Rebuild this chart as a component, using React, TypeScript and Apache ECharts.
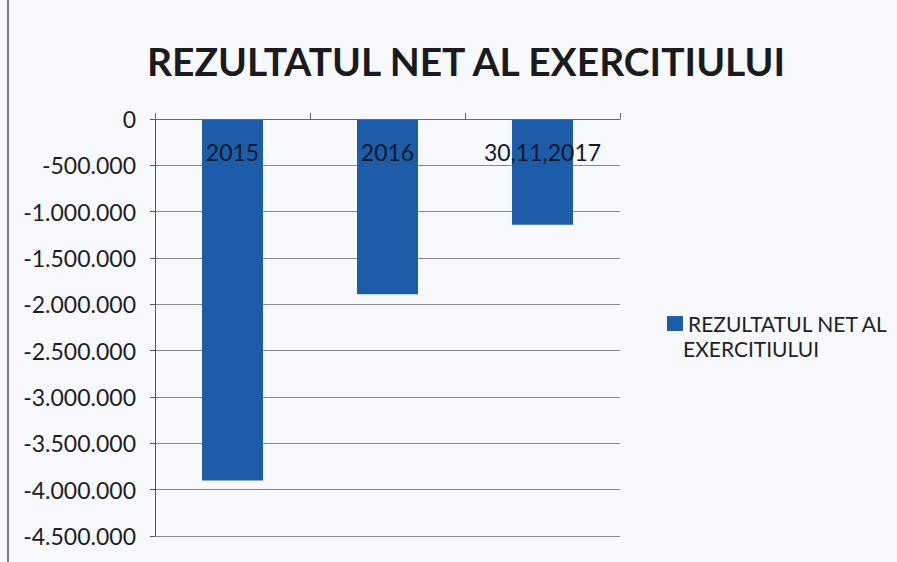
import React, { useEffect, useRef } from "react";
import * as echarts from "echarts";

const categories = ["2015", "2016", "30,11,2017"];
const values = [-3900000, -1890000, -1140000];
const seriesName = "REZULTATUL NET AL EXERCITIULUI";
const titleText = "REZULTATUL NET AL EXERCITIULUI";

const fmt = (v: number) => {
  const s = Math.abs(v).toString().replace(/\B(?=(\d{3})+(?!\d))/g, ".");
  return (v < 0 ? "-" : "") + s;
};

export default function App() {
  const ref = useRef<HTMLDivElement>(null);
  useEffect(() => {
    const chart = echarts.init(ref.current!, null, { renderer: "svg" });
    chart.setOption({
      animation: false,
      backgroundColor: "#f8f9fc",
      title: {
        text: titleText,
        left: 461,
        top: 36,
        textAlign: "center",
        textStyle: {
          fontFamily: "Lato",
          fontWeight: "bold",
          fontSize: 39,
          color: "#1b1b1f",
        },
      },
      legend: {
        left: 662,
        top: 308,
        itemWidth: 16,
        itemHeight: 15,
        itemGap: 5,
        icon: "rect",
        formatter: () => "REZULTATUL NET AL",
        textStyle: { fontFamily: "Lato", fontSize: 21, color: "#222" },
        data: [seriesName],
      },
      graphic: [
        {
          type: "text",
          left: 683,
          top: 338,
          style: {
            text: "EXERCITIULUI",
            font: "21px Lato",
            fill: "#222",
          },
        },
        {
          type: "line",
          shape: { x1: 8, y1: 0, x2: 8, y2: 562 },
          style: { stroke: "#555", lineWidth: 1.5 },
        },
      ],
      grid: { left: 155, top: 119, width: 465, height: 417 },
      xAxis: {
        type: "category",
        data: categories,
        position: "top",
        z: 10,
        axisLine: { show: true, lineStyle: { color: "#666", width: 1 } },
        axisTick: { show: true, length: 6, lineStyle: { color: "#666" } },
        axisLabel: {
          inside: true,
          margin: 33,
          verticalAlign: "middle",
          fontFamily: "Lato",
          fontSize: 23,
          color: "#15182a",
        },
      },
      yAxis: {
        type: "value",
        min: -4500000,
        max: 0,
        interval: 500000,
        axisLine: { show: true, lineStyle: { color: "#555", width: 1 } },
        axisTick: { show: true, length: 5, lineStyle: { color: "#555" } },
        splitLine: { show: true, lineStyle: { color: "#8a8a8a", width: 1 } },
        axisLabel: {
          formatter: (v: number) => fmt(v),
          fontFamily: "Lato",
          fontSize: 23,
          color: "#1e1e22",
          margin: 19,
        },
      },
      series: [
        {
          name: seriesName,
          type: "bar",
          data: values,
          barWidth: 61,
          itemStyle: { color: "#1c5ca8" },
        },
      ],
    });
    return () => chart.dispose();
  }, []);
  return (
    <div
      ref={ref}
      style={{ position: "fixed", left: 0, top: 0, width: 897, height: 562 }}
    />
  );
}
